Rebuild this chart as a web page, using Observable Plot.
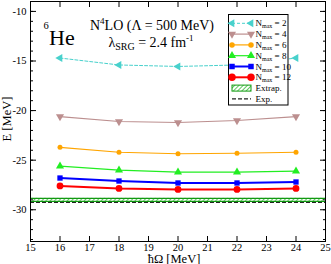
<!DOCTYPE html>
<html><head><meta charset="utf-8">
<script src="https://cdn.jsdelivr.net/npm/d3@7"></script>
<script src="https://cdn.jsdelivr.net/npm/@observablehq/plot@0.6"></script>
<style>
body{margin:0;background:#fff;}
#wrap{position:relative;width:331px;height:264px;overflow:hidden;font-family:"Liberation Serif",serif;}
#wrap svg{position:absolute;left:0;top:0;}
</style></head>
<body>
<svg width="0" height="0" style="position:absolute">
<defs>
<pattern id="hatch" patternUnits="userSpaceOnUse" width="3" height="3" patternTransform="rotate(45)">
<rect width="3" height="3" fill="#ffffff"/>
<line x1="0" y1="0" x2="0" y2="3" stroke="#33bb33" stroke-width="1.6"/>
</pattern>
</defs>
</svg>
<div id="wrap"></div>
<script>
// ---- data ----
const hOmega = [16, 18, 20, 22, 24];
const nmaxList = [2, 4, 6, 8, 10, 12];
const E_n2  = [-14.7, -15.4, -15.55, -15.4, -14.7];
const E_n4  = [-20.6, -21.1, -21.2, -21.0, -20.6];
const E_n6  = [-23.7, -24.2, -24.35, -24.3, -24.2];
const E_n8  = [-25.6, -26.0, -26.2, -26.2, -26.1];
const E_n10 = [-26.8, -27.1, -27.3, -27.3, -27.2];
const E_n12 = [-27.6, -27.85, -27.95, -27.95, -27.85];
const extrapBand = [-28.85, -29.15];
const expValue = [-29.27];
const xDomain = [15, 25];
const yDomain = [-33.2, -9];
const xTicks = [15, 16, 17, 18, 19, 20, 21, 22, 23, 24, 25];
const yMajor = [-30, -25, -20, -15, -10];
const yMinor = d3.range(-33, -8, 1);

const seriesValues = [E_n2, E_n4, E_n6, E_n8, E_n10, E_n12];
const styles = [
  {color: "#48d1cc", width: 1, dash: "3,2", symbol: "triangle", rotate: -90, r: 3},
  {color: "#bc8f8f", width: 1.2, dash: null, symbol: "triangle", rotate: 180, r: 3},
  {color: "#ffa500", width: 1.2, dash: null, symbol: "circle", rotate: 0, r: 2.5},
  {color: "#22ee22", width: 1.2, dash: null, symbol: "triangle", rotate: 0, r: 3},
  {color: "#0000ff", width: 2, dash: null, symbol: "square", rotate: 0, r: 3},
  {color: "#ff0000", width: 2, dash: null, symbol: "circle", rotate: 0, r: 3.4}
];

const rows = [];
nmaxList.forEach((n, i) => hOmega.forEach((h, j) => rows.push({n, h, e: seriesValues[i][j]})));

const marks = [];
// extrapolation band
marks.push(Plot.rect([extrapBand], {x1: xDomain[0], x2: xDomain[1], y1: d => d[0], y2: d => d[1], fill: "url(#hatch)"}));
marks.push(Plot.ruleY(extrapBand, {stroke: "#119911", strokeWidth: 1.2}));
marks.push(Plot.ruleY(expValue, {stroke: "#222", strokeWidth: 1.2, strokeDasharray: "4,2"}));

nmaxList.forEach((n, i) => {
  const s = styles[i];
  const data = rows.filter(d => d.n === n);
  marks.push(Plot.line(data, {x: "h", y: "e", stroke: s.color, strokeWidth: s.width, strokeDasharray: s.dash}));
  marks.push(Plot.dot(data, {x: "h", y: "e", symbol: () => s.symbol, fill: s.color, stroke: "none", r: s.r, rotate: s.rotate}));
});

marks.push(Plot.frame({stroke: "black", strokeWidth: 1}));
const fmt = d => String(d);
// labels
marks.push(Plot.axisX(xTicks, {anchor: "bottom", tickSize: 0, tickPadding: 2, tickFormat: fmt, label: null}));
marks.push(Plot.axisY(yMajor, {anchor: "left", tickSize: 0, tickPadding: 4, tickFormat: fmt, label: null}));
// inward ticks
marks.push(Plot.axisX(xTicks, {anchor: "bottom", tickSize: -5, tickFormat: () => "", label: null}));
marks.push(Plot.axisX(xTicks, {anchor: "top", tickSize: -5, tickFormat: () => "", label: null}));
marks.push(Plot.axisY(yMajor, {anchor: "left", tickSize: -6, tickFormat: () => "", label: null}));
marks.push(Plot.axisY(yMinor, {anchor: "left", tickSize: -3, tickFormat: () => "", label: null}));
marks.push(Plot.axisY(yMajor, {anchor: "right", tickSize: -6, tickFormat: () => "", label: null}));
marks.push(Plot.axisY(yMinor, {anchor: "right", tickSize: -3, tickFormat: () => "", label: null}));

const chart = Plot.plot({
  width: 331, height: 264,
  marginLeft: 30, marginRight: 6, marginTop: 1, marginBottom: 23,
  x: {domain: xDomain},
  y: {domain: yDomain},
  style: {fontFamily: "Liberation Serif", fontSize: "10.5px", color: "black", background: "white", overflow: "visible"},
  marks
});
const wrap = document.getElementById("wrap");
wrap.appendChild(chart);

// ---- overlay: annotations, titles, legend ----
const ov = d3.select(wrap).append("svg").attr("width", 331).attr("height", 264)
  .style("font-family", "Liberation Serif").style("overflow", "visible");

// axis titles
ov.append("text").attr("x", 174).attr("y", 262.5).attr("text-anchor", "middle").attr("font-size", 12.5).text("ħΩ [MeV]");
ov.append("text").attr("transform", "translate(11,119) rotate(-90)").attr("text-anchor", "middle").attr("font-size", 12.5).text("E [MeV]");

// nucleus label
ov.append("text").attr("x", 43.5).attr("y", 28.5).attr("font-size", 10.5).text("6");
ov.append("text").attr("x", 49).attr("y", 45).attr("font-size", 22).text("He");

// interaction label
const t1 = ov.append("text").attr("x", 152).attr("y", 30).attr("text-anchor", "middle").attr("font-size", 14);
t1.append("tspan").text("N");
t1.append("tspan").attr("font-size", 9).attr("dy", -6).text("4");
t1.append("tspan").attr("dy", 6).text("LO (Λ = 500 MeV)");
const t2 = ov.append("text").attr("x", 151).attr("y", 47).attr("text-anchor", "middle").attr("font-size", 14);
t2.append("tspan").text("λ");
t2.append("tspan").attr("font-size", 10).attr("dy", 3).text("SRG");
t2.append("tspan").attr("dy", -3).text(" = 2.4 fm");
t2.append("tspan").attr("font-size", 9).attr("dy", -6).text("-1");

// legend
const lg = ov.append("g").attr("transform", "translate(228.5,14.5)");
lg.append("rect").attr("width", 59.5).attr("height", 90.5).attr("fill", "white").attr("stroke", "black").attr("stroke-width", 1);
const sym = {
  triangle: d3.symbol(d3.symbolTriangle, 28),
  circle: d3.symbol(d3.symbolCircle, 34),
  square: d3.symbol(d3.symbolSquare, 30)
};
nmaxList.forEach((n, i) => {
  const s = styles[i];
  const y = 8.8 + i * 10.8;
  lg.append("line").attr("x1", 3.5).attr("x2", 22.5).attr("y1", y).attr("y2", y)
    .attr("stroke", s.color).attr("stroke-width", s.width).attr("stroke-dasharray", s.dash);
  [3.5, 22.5].forEach(x => {
    lg.append("path").attr("d", sym[s.symbol]()).attr("fill", s.color)
      .attr("transform", `translate(${x},${y}) rotate(${s.rotate}) scale(${s.r / 3})`);
  });
  const t = lg.append("text").attr("x", 27).attr("y", y + 3).attr("font-size", 9);
  t.append("tspan").text("N");
  t.append("tspan").attr("font-size", 6).attr("dy", 2).text("max");
  t.append("tspan").attr("dy", -2).text(" = " + n);
});
{
  const y = 8.8 + 6 * 10.8;
  lg.append("rect").attr("x", 3.5).attr("y", y - 3).attr("width", 19).attr("height", 6)
    .attr("fill", "url(#hatch)").attr("stroke", "#119911").attr("stroke-width", 1);
  lg.append("text").attr("x", 27).attr("y", y + 3).attr("font-size", 9).text("Extrap.");
  const y2 = 8.8 + 7 * 10.8;
  lg.append("line").attr("x1", 3.5).attr("x2", 22.5).attr("y1", y2).attr("y2", y2)
    .attr("stroke", "#222").attr("stroke-width", 1.2).attr("stroke-dasharray", "4,2");
  lg.append("text").attr("x", 27).attr("y", y2 + 3).attr("font-size", 9).text("Exp.");
}
</script>
</body></html>
